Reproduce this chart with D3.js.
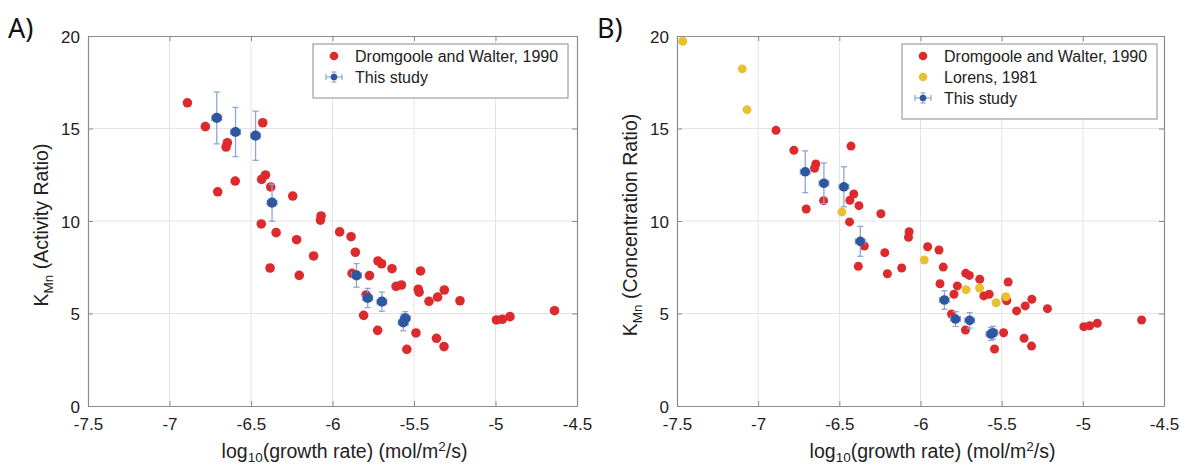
<!DOCTYPE html>
<html>
<head>
<meta charset="utf-8">
<script src="https://cdn.jsdelivr.net/npm/d3@7"></script>
<style>
  html, body { margin: 0; padding: 0; background: #ffffff; }
  svg { display: block; font-family: "Liberation Sans", Arial, Helvetica, sans-serif; }
</style>
</head>
<body>
<svg id="chart" width="1180" height="466"></svg>
<script>
// Axis ticks shared by both panels
const xTicks = [-7.5, -7, -6.5, -6, -5.5, -5, -4.5];
const xTickLabels = ["-7.5", "-7", "-6.5", "-6", "-5.5", "-5", "-4.5"];
const yTicks = [0, 5, 10, 15, 20];

// Dromgoole and Walter, 1990: log10 growth rate, K_Mn as activity and concentration ratio
const dwGrowth = [-6.89, -6.78, -6.645, -6.653, -6.428, -6.411, -6.435, -6.379, -6.704, -6.597,
  -6.244, -6.437, -6.346, -6.07, -6.074, -6.22, -5.956, -6.116, -5.886, -5.86,
  -6.204, -5.88, -5.773, -5.721, -5.699, -5.635, -5.46, -5.61, -5.577, -5.474,
  -5.469, -5.314, -5.355, -5.408, -5.218, -5.794, -5.809, -5.723, -5.488, -5.544,
  -5.362, -5.316, -4.994, -4.958, -4.911, -4.638, -6.383];
const dwActivity = [16.39, 15.10, 14.23, 14.00, 15.31, 12.49, 12.25, 11.84, 11.58, 12.16,
  11.35, 9.84, 9.37, 10.27, 10.05, 8.99, 9.41, 8.11, 9.15, 8.31,
  7.06, 7.17, 7.05, 7.84, 7.69, 7.42, 7.30, 6.47, 6.54, 6.31,
  6.15, 6.27, 5.89, 5.66, 5.69, 6.00, 4.90, 4.09, 3.95, 3.06,
  3.66, 3.21, 4.65, 4.69, 4.83, 5.15, 7.46];
const dwConcentration = [14.90, 13.82, 13.08, 12.85, 14.05, 11.46, 11.12, 10.83, 10.65, 11.10,
  10.39, 9.95, 8.65, 9.42, 9.12, 8.29, 8.61, 7.46, 8.43, 7.51,
  7.15, 6.61, 6.49, 7.17, 7.06, 6.85, 6.70, 5.95, 6.04, 5.82,
  5.69, 5.77, 5.41, 5.14, 5.26, 6.04, 4.97, 4.11, 3.96, 3.08,
  3.66, 3.24, 4.29, 4.34, 4.47, 4.65, 7.55];

// Lorens, 1981 (concentration ratio only)
const lorensGrowth = [-7.465, -7.098, -7.069, -6.484, -5.977, -5.719, -5.636, -5.474, -5.534];
const lorensConcentration = [19.71, 18.22, 16.02, 10.49, 7.89, 6.29, 6.38, 5.91, 5.58];

// This study, with uncertainties
const studyGrowth = [-6.71, -6.595, -6.472, -6.371, -5.853, -5.784, -5.697, -5.566, -5.553];
const studyGrowthErr = [0.03, 0.03, 0.03, 0.03, 0.03, 0.03, 0.03, 0.03, 0.03];
const studyActivity = [15.57, 14.81, 14.61, 10.99, 7.06, 5.84, 5.64, 4.52, 4.74];
const studyActivityErr = [1.40, 1.33, 1.33, 1.00, 0.64, 0.52, 0.52, 0.45, 0.36];
const studyConcentration = [12.66, 12.04, 11.85, 8.90, 5.73, 4.70, 4.63, 3.89, 3.96];
const studyConcentrationErr = [1.13, 1.10, 1.08, 0.81, 0.50, 0.40, 0.42, 0.35, 0.35];

const RED = "#dd2a2c";
const YELLOW = "#e8c133";
const BLUE = "#2f579f";
const ERR = "#8ea7d6";
const AXIS = "#8c8c8c";
const GRID = "#e4e4e4";
const TEXT = "#222222";

const svg = d3.select("#chart");

function drawPanel(opt) {
  const { left, right, top, bottom } = opt;
  const x = d3.scaleLinear().domain([-7.5, -4.5]).range([left, right]);
  const y = d3.scaleLinear().domain([0, 20]).range([bottom, top]);
  const g = svg.append("g");

  // grid
  g.append("g").selectAll("line.gx").data(xTicks.slice(1, -1)).join("line")
    .attr("x1", d => x(d)).attr("x2", d => x(d)).attr("y1", top).attr("y2", bottom)
    .attr("stroke", GRID).attr("stroke-width", 1);
  g.append("g").selectAll("line.gy").data(yTicks.slice(1, -1)).join("line")
    .attr("y1", d => y(d)).attr("y2", d => y(d)).attr("x1", left).attr("x2", right)
    .attr("stroke", GRID).attr("stroke-width", 1);

  // axes with inward ticks on all four sides
  const tick = 5;
  const xb = g.append("g").attr("transform", `translate(0,${bottom})`)
    .call(d3.axisBottom(x).tickValues(xTicks).tickSizeInner(-tick).tickSizeOuter(0)
      .tickFormat((d, i) => xTickLabels[i]).tickPadding(12));
  const xt = g.append("g").attr("transform", `translate(0,${top})`)
    .call(d3.axisTop(x).tickValues(xTicks).tickSizeInner(-tick).tickSizeOuter(0).tickFormat(""));
  const yl = g.append("g").attr("transform", `translate(${left},0)`)
    .call(d3.axisLeft(y).tickValues(yTicks).tickSizeInner(-tick).tickSizeOuter(0).tickPadding(8));
  const yr = g.append("g").attr("transform", `translate(${right},0)`)
    .call(d3.axisRight(y).tickValues(yTicks).tickSizeInner(-tick).tickSizeOuter(0).tickFormat(""));
  [xb, xt, yl, yr].forEach(a => {
    a.select(".domain").attr("stroke", AXIS).attr("stroke-width", 1.2);
    a.selectAll(".tick line").attr("stroke", AXIS);
    a.selectAll("text").attr("fill", TEXT).style("font-size", "17px")
      .style("font-family", "'Liberation Sans', Arial, sans-serif");
  });
  xb.selectAll(".tick text").attr("dy", "0.71em");
  yl.selectAll(".tick text").attr("dy", "0.36em");

  const plot = g.append("g");
  const r = opt.r;

  // Dromgoole and Walter points
  plot.append("g").selectAll("circle").data(dwGrowth).join("circle")
    .attr("cx", d => x(d)).attr("cy", (d, i) => y(opt.dwValues[i]))
    .attr("r", r).attr("fill", RED);

  // Lorens points
  if (opt.lorens) {
    plot.append("g").selectAll("circle").data(lorensGrowth).join("circle")
      .attr("cx", d => x(d)).attr("cy", (d, i) => y(lorensConcentration[i]))
      .attr("r", r).attr("fill", YELLOW);
  }

  // This study: error bars then markers
  const eb = plot.append("g").attr("stroke", ERR).attr("stroke-width", 1.3).attr("fill", "none");
  const cap = 3;
  studyGrowth.forEach((gx, i) => {
    const v = opt.studyValues[i], e = opt.studyErr[i], ex = studyGrowthErr[i];
    const cx = x(gx), cy = y(v);
    eb.append("line").attr("x1", cx).attr("x2", cx).attr("y1", y(v + e)).attr("y2", y(v - e));
    eb.append("line").attr("x1", cx - cap).attr("x2", cx + cap).attr("y1", y(v + e)).attr("y2", y(v + e));
    eb.append("line").attr("x1", cx - cap).attr("x2", cx + cap).attr("y1", y(v - e)).attr("y2", y(v - e));
    eb.append("line").attr("x1", x(gx - ex)).attr("x2", x(gx + ex)).attr("y1", cy).attr("y2", cy);
    eb.append("line").attr("x1", x(gx - ex)).attr("x2", x(gx - ex)).attr("y1", cy - cap).attr("y2", cy + cap);
    eb.append("line").attr("x1", x(gx + ex)).attr("x2", x(gx + ex)).attr("y1", cy - cap).attr("y2", cy + cap);
  });
  plot.append("g").selectAll("circle").data(studyGrowth).join("circle")
    .attr("cx", d => x(d)).attr("cy", (d, i) => y(opt.studyValues[i]))
    .attr("r", r + 0.3).attr("fill", BLUE);

  // legend
  const items = opt.lorens
    ? [["dot", RED, "Dromgoole and Walter, 1990"], ["dot", YELLOW, "Lorens, 1981"], ["err", BLUE, "This study"]]
    : [["dot", RED, "Dromgoole and Walter, 1990"], ["err", BLUE, "This study"]];
  const lg = g.append("g");
  const lgH = 12 + items.length * 21;
  lg.append("rect").attr("x", opt.legendX).attr("y", top + 8).attr("width", opt.legendW).attr("height", lgH)
    .attr("fill", "#ffffff").attr("stroke", AXIS).attr("stroke-width", 1);
  items.forEach((it, i) => {
    const cy = top + 20 + i * 21;
    const mx = opt.legendX + 21;
    if (it[0] === "dot") {
      lg.append("circle").attr("cx", mx).attr("cy", cy).attr("r", 4.3).attr("fill", it[1]);
    } else {
      const le = lg.append("g").attr("stroke", ERR).attr("stroke-width", 1.2);
      le.append("line").attr("x1", mx - 8).attr("x2", mx + 8).attr("y1", cy).attr("y2", cy);
      le.append("line").attr("x1", mx - 8).attr("x2", mx - 8).attr("y1", cy - 3).attr("y2", cy + 3);
      le.append("line").attr("x1", mx + 8).attr("x2", mx + 8).attr("y1", cy - 3).attr("y2", cy + 3);
      le.append("line").attr("x1", mx).attr("x2", mx).attr("y1", cy - 5).attr("y2", cy + 5);
      le.append("line").attr("x1", mx - 2.5).attr("x2", mx + 2.5).attr("y1", cy - 5).attr("y2", cy - 5);
      le.append("line").attr("x1", mx - 2.5).attr("x2", mx + 2.5).attr("y1", cy + 5).attr("y2", cy + 5);
      lg.append("circle").attr("cx", mx).attr("cy", cy).attr("r", 3.3).attr("fill", it[1]);
    }
    lg.append("text").attr("x", opt.legendX + 42).attr("y", cy).attr("dy", "0.36em")
      .attr("fill", TEXT).style("font-size", "16px").text(it[2]);
  });

  // x-axis title
  const xtitle = g.append("text").attr("x", (left + right) / 2 + 12).attr("y", bottom + 52)
    .attr("text-anchor", "middle").attr("fill", TEXT).style("font-size", "19.5px");
  xtitle.append("tspan").text("log");
  xtitle.append("tspan").attr("dy", 4).style("font-size", "13.5px").text("10");
  xtitle.append("tspan").attr("dy", -4).text("(growth rate) (mol/m");
  xtitle.append("tspan").attr("dy", -7).style("font-size", "13.5px").text("2");
  xtitle.append("tspan").attr("dy", 7).text("/s)");

  // y-axis title
  const ytitle = g.append("text")
    .attr("transform", `translate(${left - 40},${(top + bottom) / 2 + 4}) rotate(-90)`)
    .attr("text-anchor", "middle").attr("fill", TEXT).style("font-size", "19.5px");
  ytitle.append("tspan").text("K");
  ytitle.append("tspan").attr("dy", 5).style("font-size", "13.5px").text("Mn");
  ytitle.append("tspan").attr("dy", -5).text(" " + opt.yTitle);

  // panel letter
  svg.append("text").attr("x", opt.letterX).attr("y", 38).attr("fill", "#111")
    .style("font-size", "27px").style("font-family", "'Noto Sans', 'Liberation Sans', sans-serif")
    .text(opt.letter);
}

drawPanel({
  left: 88, right: 577, top: 36, bottom: 406, r: 4.8,
  dwValues: dwActivity, studyValues: studyActivity, studyErr: studyActivityErr,
  lorens: false, legendX: 313, legendW: 255,
  yTitle: "(Activity Ratio)", letter: "A)", letterX: 8
});
drawPanel({
  left: 677, right: 1164, top: 36, bottom: 406, r: 4.5,
  dwValues: dwConcentration, studyValues: studyConcentration, studyErr: studyConcentrationErr,
  lorens: true, legendX: 902, legendW: 255,
  yTitle: "(Concentration Ratio)", letter: "B)", letterX: 597
});
</script>
</body>
</html>
